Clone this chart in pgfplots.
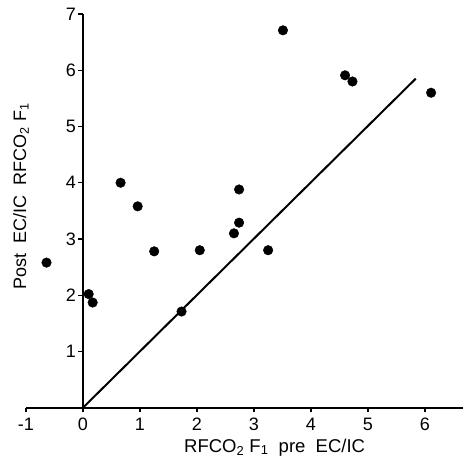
\documentclass[border=0pt]{standalone}
\usepackage{fontspec}
\setmainfont{Liberation Sans}
\usepackage{pgfplots}
\pgfplotsset{compat=1.18}
\begin{document}
\begin{tikzpicture}
\path[use as bounding box] (-26pt,-52.3pt) rectangle (439pt,407.7pt);
\begin{axis}[
  scale only axis,
  width=437pt, height=393.7pt,
  xmin=-1, xmax=6.67, ymin=0, ymax=7,
  axis lines=middle,
  axis line style={-, line width=1.8pt},
  hide obscured x ticks=false,
  hide obscured y ticks=false,
  xtick={-1,0,1,2,3,4,5,6},
  ytick={1,2,3,4,5,6,7},
  tick align=outside,
  major tick length=4.5pt,
  tick style={line width=1.4pt, black},
  /pgf/number format/assume math mode=true,
  ticklabel style={font=\fontsize{18}{18}\selectfont},
  xticklabel style={yshift=-2pt},
  yticklabel style={xshift=1pt},
  xlabel={RFCO\textsubscript{2} F\textsubscript{1}\ \ pre\ \ EC/IC},
  ylabel={Post\ \ EC/IC\ \ RFCO\textsubscript{2} F\textsubscript{1}},
  xlabel style={at={(axis description cs:0.569,0)}, anchor=base, yshift=-44.3pt, font=\fontsize{18.5}{18.5}\selectfont},
  ylabel style={at={(axis description cs:0,0.535)}, anchor=base, rotate=90, xshift=1pt, font=\fontsize{18}{18}\selectfont},
  clip=false,
]
\addplot[only marks, mark=*, mark size=4.8pt, black] coordinates {
  (-0.64,2.58) (0.10,2.02) (0.17,1.87) (0.66,4.00) (0.96,3.58)
  (1.25,2.78) (1.73,1.71) (2.05,2.80) (2.65,3.10) (2.74,3.29)
  (2.74,3.88) (3.25,2.80) (3.51,6.71) (4.60,5.91) (4.73,5.80)
  (6.11,5.60)
};
\addplot[black, line width=2pt] coordinates {(0,0) (5.84,5.85)};
\end{axis}
\end{tikzpicture}
\end{document}
